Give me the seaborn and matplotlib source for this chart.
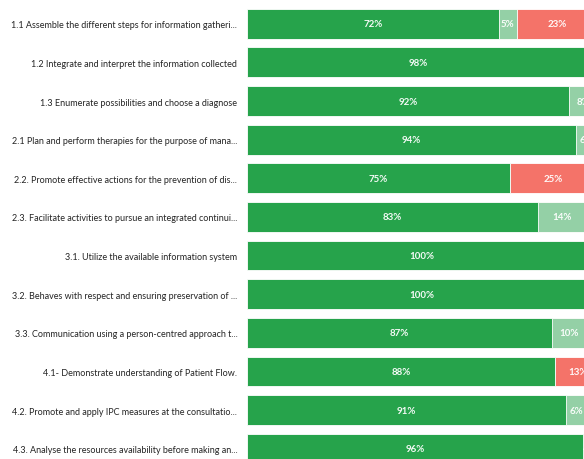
import matplotlib
matplotlib.use("Agg")
import matplotlib.pyplot as plt
from matplotlib import font_manager
import seaborn as sns
import pandas as pd

# Competency items (as displayed, truncated)
items = [
    "1.1 Assemble the different steps for information gatheri...",
    "1.2 Integrate and interpret the information collected",
    "1.3 Enumerate possibilities and choose a diagnose",
    "2.1 Plan and perform therapies for the purpose of mana...",
    "2.2. Promote effective actions for the prevention of dis...",
    "2.3. Facilitate activities to pursue an integrated continui...",
    "3.1. Utilize the available information system",
    "3.2. Behaves with respect and ensuring preservation of ...",
    "3.3. Communication using a person-centred approach t...",
    "4.1- Demonstrate understanding of Patient Flow.",
    "4.2. Promote and apply IPC measures at the consultatio...",
    "4.3. Analyse the resources availability before making an...",
]

# Share of responses per item (%)
achieved = [72, 98, 92, 94, 75, 83, 100, 100, 87, 88, 91, 96]
partial = [5, 2, 8, 6, 0, 14, 0, 0, 10, 0, 6, 4]
not_achieved = [23, 0, 0, 0, 25, 3, 0, 0, 3, 13, 3, 0]

colors = {"achieved": "#26A34B", "partial": "#94D0A6", "not": "#F47369"}

df = pd.DataFrame({
    "item": items,
    "achieved": achieved,
    "partial": partial,
    "not": not_achieved,
})
df["cum_achieved"] = df["achieved"]
df["cum_partial"] = df["achieved"] + df["partial"]
df["cum_not"] = df["cum_partial"] + df["not"]

sns.set_theme(style="white")
installed = {f.name for f in font_manager.fontManager.ttflist}
family = "Liberation Sans Narrow" if "Liberation Sans Narrow" in installed else "Lato"
plt.rcParams["font.family"] = [family, "DejaVu Sans"]

fig = plt.figure(figsize=(5.84, 4.60), dpi=100)
W, H = 584, 460
left_px, width_px = 247, 350
top_px, bottom_px = 5.4, 469.1
ax = fig.add_axes([left_px / W, (H - bottom_px) / H,
                   width_px / W, (bottom_px - top_px) / H])

# Stacked bars: draw cumulative totals widest first so each layer shows its segment
for col, key in [("cum_not", "not"), ("cum_partial", "partial"), ("cum_achieved", "achieved")]:
    sns.barplot(data=df, x=col, y="item", orient="h", color=colors[key],
                saturation=1, width=0.77, edgecolor="white", linewidth=0.6,
                ax=ax, errorbar=None)

# Percentage labels centred on each segment
for i, row in df.iterrows():
    start = 0
    for key in ["achieved", "partial", "not"]:
        v = row[key]
        if v > 0:
            ax.text(start + v / 2, i, f"{v}%", ha="center", va="center",
                    color="white", fontsize=7, fontweight="bold", alpha=0.95)
        start += v

ax.set_xlim(0, 100)
ax.set_ylim(len(items) - 0.5, -0.5)
ax.set_xlabel("")
ax.set_ylabel("")
ax.set_xticks([])
ax.tick_params(axis="y", length=0, pad=7, labelsize=7, labelcolor="#252525")
for s in ax.spines.values():
    s.set_visible(False)

# Size the item labels so the longest one spans the space left of the bars
fig.canvas.draw()
renderer = fig.canvas.get_renderer()
widest = max(t.get_window_extent(renderer).width for t in ax.get_yticklabels())
size = 7 * 228.0 / widest
for t in ax.get_yticklabels():
    t.set_fontsize(size)

fig.savefig("out.png", dpi=100)
